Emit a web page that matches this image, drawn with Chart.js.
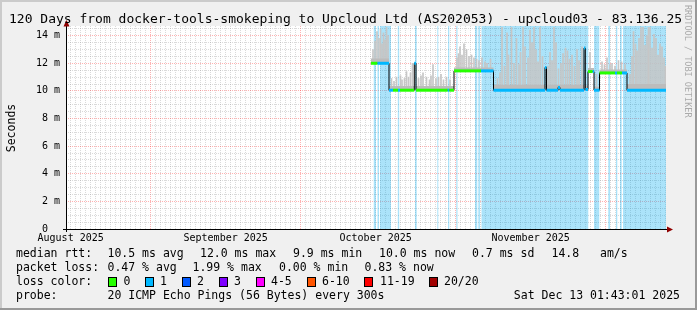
<!DOCTYPE html>
<html>
<head>
<meta charset="utf-8">
<script src="https://cdn.jsdelivr.net/npm/chart.js@4.4.1/dist/chart.umd.min.js"></script>
<style>
  html, body { margin: 0; padding: 0; background: #f0f0f0; }
  #wrap { width: 697px; height: 310px; }
</style>
</head>
<body>
<div id="wrap"><canvas id="chart" width="697" height="310"></canvas></div>
<script>
// x = days since 1 Aug 2025 00:00, y = milliseconds
const START = 14.07, END = 134.07;   // 15 Aug 01:43 .. 13 Dec 01:43
const Y_MAX = 14.7;

const monthStarts = [31, 61, 92, 122];
const labelDays   = [15, 46, 76, 107];
const monthNames  = ['August 2025', 'September 2025', 'October 2025', 'November 2025'];
const yLabelStep  = 2;

// periods with packet loss (light blue background)
const lossStart = [75.57, 76.37, 76.87, 80.43, 83.87, 88.33, 90.47, 92.13, 95.87, 96.53, 97.17, 119.67, 122.53, 124.07, 124.87, 125.47];
const lossEnd   = [76.07, 76.67, 79.07, 80.71, 84.21, 88.53, 90.73, 92.37, 96.33, 96.87, 118.53, 120.73, 122.87, 124.33, 125.21, 134.07];

// median rtt, one entry per run: start time, value, loss colour index
const medianTimes = [75.07, 76.37, 78.67, 79.47, 80.47, 80.87, 83.73, 84.07, 90.41, 90.73,
                     91.67, 97.07, 99.57, 109.87, 110.17, 112.47, 112.87, 117.67, 117.93, 118.47,
                     119.41, 119.67, 120.77, 123.87, 124.27, 125.27, 126.27];
const medianMs    = [12.0, 12.0, 10.05, 10.05, 10.05, 10.05, 12.0, 10.05, 10.05, 10.05,
                     11.45, 11.45, 10.05, 11.7, 10.05, 10.25, 10.05, 13.1, 10.1, 11.4,
                     11.4, 10.05, 11.3, 11.3, 11.3, 11.3, 10.05];
const medianLoss  = [0, 1, 1, 0, 1, 0, 1, 0, 1, 0,
                     0, 1, 1, 1, 1, 1, 1, 1, 1, 0,
                     1, 1, 0, 1, 0, 1, 1];
// top of the dense smoke above each run
const bandMs      = [12.35, 12.35, 10.35, 10.35, 10.35, 10.35, 12.1, 10.35, 10.35, 10.35,
                     11.7, 11.7, 10.45, 11.8, 10.45, 10.45, 10.45, 13.1, 10.4, 11.65,
                     11.65, 10.3, 11.55, 11.55, 11.55, 11.55, 10.5];

// single smoke spikes
const smokeTimes = [75.47, 75.87, 76.27, 76.67, 76.97, 77.27, 77.57, 77.87, 78.17, 78.47,
  79.17, 79.67, 80.17, 80.97, 81.27, 81.77, 82.17, 82.57, 82.97, 83.37, 84.57, 85.07, 85.47, 86.17,
  86.77, 87.07, 87.47, 88.07, 88.57, 89.07, 89.57, 90.17, 90.87,
  92.27, 92.57, 92.87, 93.27, 93.67, 94.17, 94.67, 95.17, 95.67, 96.17, 96.67, 97.27, 97.87, 98.27, 98.97,
  100.37, 100.87, 101.27, 101.77, 102.27, 102.57, 103.17, 103.67, 104.17, 104.67, 104.97, 105.47,
  105.87, 106.47, 106.87, 107.27, 107.67, 108.07, 108.47, 108.87, 109.37, 110.47, 110.87, 111.27,
  111.67, 112.07, 112.57, 113.07, 113.47, 113.97, 114.37, 114.77, 115.27, 115.77, 116.27, 116.67, 117.27,
  118.87, 120.17, 121.27, 121.77, 122.27, 122.87, 123.27, 123.87, 124.57, 125.17, 125.87,
  126.87, 127.27, 127.57, 127.97, 128.27, 128.67, 129.07, 129.47, 129.87, 130.27, 130.57, 130.87,
  131.27, 131.67, 132.07, 132.47, 132.87, 133.27, 133.67, 133.97];
const smokeTops = [13.0, 13.6, 14.3, 13.8, 14.5, 13.4, 14.2, 13.7, 14.6, 14.0,
  10.9, 10.7, 11.0, 11.1, 10.8, 10.9, 11.4, 11.0, 11.3, 12.0, 10.9, 11.1, 11.3, 11.0,
  10.8, 11.1, 11.9, 10.9, 11.0, 11.2, 10.8, 11.0, 10.8,
  12.4, 12.7, 13.2, 12.6, 13.4, 13.0, 12.5, 12.6, 12.4, 12.3, 12.2, 12.4, 12.1, 12.0, 12.3,
  10.9, 11.3, 14.6, 11.8, 14.2, 12.6, 14.6, 12.0, 13.8, 11.9, 12.8, 14.6,
  13.2, 12.4, 14.4, 13.5, 14.6, 13.0, 12.1, 14.6, 12.5, 11.8, 12.8, 12.2,
  14.6, 13.5, 11.6, 12.0, 12.7, 13.1, 12.9, 12.3, 12.6, 11.8, 13.0, 12.2, 13.2,
  12.8, 11.2, 12.1, 11.9, 12.4, 11.9, 12.0, 11.8, 12.2, 12.1, 11.9,
  11.2, 12.5, 14.3, 13.4, 12.9, 13.8, 14.6, 14.6, 13.3, 14.0, 14.6, 14.6,
  13.1, 14.1, 13.8, 12.6, 13.4, 13.2, 12.4, 11.8];

const lossColors = ['#26ff00', '#00b8ff', '#0059ff', '#7e00ff', '#ff00ff', '#ff5500', '#ff0000', '#a10000'];
const lossLabels = ['0', '1', '2', '3', '4-5', '6-10', '11-19', '20/20'];

const TITLE = '120 Days from docker-tools-smokeping to Upcloud Ltd (AS202053) - upcloud03 - 83.136.25';
const legendRows = [
  { y: 254, items: [['median rtt:', 16], ['10.5 ms avg', 107.5], ['12.0 ms max', 200], ['9.9 ms min', 293],
                    ['10.0 ms now', 379], ['0.7 ms sd', 472], ['14.8', 551.5], ['am/s', 600]] },
  { y: 268, items: [['packet loss:', 16], ['0.47 % avg', 107.5], ['1.99 % max', 192.5], ['0.00 % min', 279], ['0.83 % now', 364.5]] },
  { y: 282, items: [['loss color:', 16]] },
  { y: 296, items: [['probe:', 16], ['20 ICMP Echo Pings (56 Bytes) every 300s', 107.5]] }
];
const boxX   = [108, 145, 182, 219, 256, 307, 364, 429];
const boxLblX = [123.5, 160, 197, 234, 271, 322, 380, 444];
const STAMP = 'Sat Dec 13 01:43:01 2025';

const MONO = '"DejaVu Sans Mono", monospace';
const MINOR = 'rgba(140,140,140,0.32)';
const MAJOR = 'rgba(255,0,0,0.3)';

function medianAt(t) {
  let v = medianMs[0];
  for (let i = 0; i < medianTimes.length; i++) if (medianTimes[i] <= t) v = medianMs[i];
  return v;
}
function stepPoints(vals) {
  const pts = medianTimes.map((t, i) => ({ x: t, y: vals[i] }));
  pts.push({ x: END, y: vals[vals.length - 1] });
  return pts;
}
const colouredPoints = [];
medianTimes.forEach((t, i) => {
  const end = i + 1 < medianTimes.length ? medianTimes[i + 1] : END;
  colouredPoints.push({ x: t, y: medianMs[i] }, { x: end, y: medianMs[i] }, { x: end, y: null });
});

const xTicks = [];
for (let d = Math.ceil(START); d <= END; d++) xTicks.push(d);
const yTicks = [];
for (let v = 0; v <= Y_MAX; v += 0.5) yTicks.push(v);

const decor = {
  id: 'decor',
  beforeDraw(chart) {
    const { ctx, chartArea: a } = chart;
    ctx.save();
    ctx.fillStyle = '#f0f0f0';
    ctx.fillRect(0, 0, 697, 310);
    ctx.fillStyle = '#ffffff';
    ctx.fillRect(a.left, a.top, a.right - a.left, a.bottom - a.top);
    ctx.fillStyle = '#cbcbcb';
    ctx.fillRect(0, 0, 697, 2);
    ctx.fillRect(0, 0, 2, 310);
    ctx.fillStyle = '#999999';
    ctx.fillRect(0, 308, 697, 2);
    ctx.fillRect(695, 0, 2, 310);
    ctx.restore();
  },
  afterDraw(chart) {
    const { ctx, chartArea: a } = chart;
    ctx.save();
    // axes and arrows
    ctx.fillStyle = '#000';
    ctx.fillRect(a.left, a.top - 3, 1, a.bottom - a.top + 6);
    ctx.fillRect(a.left - 3, a.bottom, a.right - a.left + 5, 1);
    ctx.fillStyle = '#900000';
    ctx.beginPath();
    ctx.moveTo(a.left + 0.5, a.top - 6);
    ctx.lineTo(a.left + 3.5, a.top + 0.5);
    ctx.lineTo(a.left - 2.5, a.top + 0.5);
    ctx.closePath();
    ctx.fill();
    ctx.beginPath();
    ctx.moveTo(a.right + 7, a.bottom + 0.5);
    ctx.lineTo(a.right + 1, a.bottom - 2.5);
    ctx.lineTo(a.right + 1, a.bottom + 3.5);
    ctx.closePath();
    ctx.fill();

    // title
    ctx.fillStyle = '#000';
    ctx.font = '13px ' + MONO;
    ctx.textBaseline = 'alphabetic';
    ctx.textAlign = 'left';
    ctx.fillText(TITLE, 9, 23);

    // y axis title
    ctx.save();
    ctx.translate(12, 128);
    ctx.rotate(-Math.PI / 2);
    ctx.font = '11.5px ' + MONO;
    ctx.textAlign = 'center';
    ctx.textBaseline = 'middle';
    ctx.fillText('Seconds', 0, 0);
    ctx.restore();

    // watermark
    ctx.save();
    ctx.translate(687.5, 5);
    ctx.rotate(Math.PI / 2);
    ctx.font = '8.5px ' + MONO;
    ctx.fillStyle = '#aaaaaa';
    ctx.textAlign = 'left';
    ctx.textBaseline = 'middle';
    ctx.fillText('RRDTOOL / TOBI OETIKER', 0, 0);
    ctx.restore();

    // legend
    ctx.font = '11.5px ' + MONO;
    ctx.fillStyle = '#000';
    ctx.textBaseline = 'middle';
    legendRows.forEach(r => r.items.forEach(([txt, x]) => ctx.fillText(txt, x, r.y)));
    lossColors.forEach((c, i) => {
      ctx.fillStyle = c;
      ctx.fillRect(boxX[i], 277, 9, 10);
      ctx.strokeStyle = '#000';
      ctx.lineWidth = 1;
      ctx.strokeRect(boxX[i] + 0.5, 277.5, 8, 9);
      ctx.fillStyle = '#000';
      ctx.fillText(lossLabels[i], boxLblX[i], 282);
    });
    ctx.textAlign = 'right';
    ctx.fillText(STAMP, 680, 296);
    ctx.restore();
  }
};

new Chart(document.getElementById('chart'), {
  type: 'line',
  data: {
    datasets: [
      { // loss background
        type: 'line',
        data: lossStart.flatMap((s, i) => [{ x: s, y: Y_MAX }, { x: lossEnd[i], y: 0 }]),
        stepped: true, fill: 'origin', backgroundColor: 'rgba(0,170,240,0.33)',
        borderWidth: 0, borderColor: 'rgba(0,0,0,0)', pointRadius: 0, order: 5
      },
      { // smoke spikes
        type: 'bar',
        data: smokeTimes.map((t, i) => ({ x: t, y: [medianAt(t), smokeTops[i]] })),
        backgroundColor: '#c6c6c6', barThickness: 1, grouped: false, borderWidth: 0, order: 4
      },
      { // dense smoke just above the median
        type: 'line', data: stepPoints(bandMs), stepped: true, fill: 3,
        backgroundColor: '#bcbcbc', borderWidth: 0, borderColor: 'rgba(0,0,0,0)', pointRadius: 0, order: 3
      },
      { // median line
        type: 'line', data: stepPoints(medianMs), stepped: true, fill: false,
        borderColor: '#000', borderWidth: 1, pointRadius: 0, order: 2
      },
      { // median coloured by loss
        type: 'line', data: colouredPoints, spanGaps: false, fill: false,
        borderWidth: 3, borderCapStyle: 'butt', borderColor: lossColors[0], pointRadius: 0, order: 1,
        segment: { borderColor: c => lossColors[medianLoss[Math.floor(c.p0DataIndex / 3)]] }
      }
    ]
  },
  options: {
    responsive: false,
    devicePixelRatio: 1,
    animation: false,
    events: [],
    layout: { padding: { top: 26, right: 31, left: 0, bottom: 0 } },
    plugins: { legend: { display: false }, tooltip: { enabled: false }, title: { display: false } },
    scales: {
      x: {
        type: 'linear', min: START, max: END, offset: false,
        afterBuildTicks: s => { s.ticks = xTicks.map(v => ({ value: v })); },
        afterFit: s => { s.height = 81; },
        ticks: {
          autoSkip: false, maxRotation: 0, minRotation: 0, padding: 3, color: '#000',
          font: { family: MONO, size: 10 },
          callback: v => { const i = labelDays.indexOf(v); return i >= 0 ? monthNames[i] : ''; }
        },
        grid: {
          offset: false, drawTicks: false, lineWidth: 1,
          color: c => (c.tick && monthStarts.includes(c.tick.value)) ? MAJOR : MINOR
        },
        border: { display: false, dash: [1, 1] }
      },
      y: {
        type: 'linear', min: 0, max: Y_MAX,
        afterBuildTicks: s => { s.ticks = yTicks.map(v => ({ value: v })); },
        afterFit: s => { s.width = 66; },
        ticks: {
          autoSkip: false, padding: 6, color: '#000',
          font: { family: MONO, size: 10 },
          callback: v => v % yLabelStep === 0 ? (v === 0 ? '0  ' : v + ' m') : ''
        },
        grid: {
          drawTicks: false, lineWidth: 1,
          color: c => (c.tick && c.tick.value % yLabelStep === 0) ? MAJOR : MINOR
        },
        border: { display: false, dash: [1, 1] }
      }
    }
  },
  plugins: [decor]
});
</script>
</body>
</html>
